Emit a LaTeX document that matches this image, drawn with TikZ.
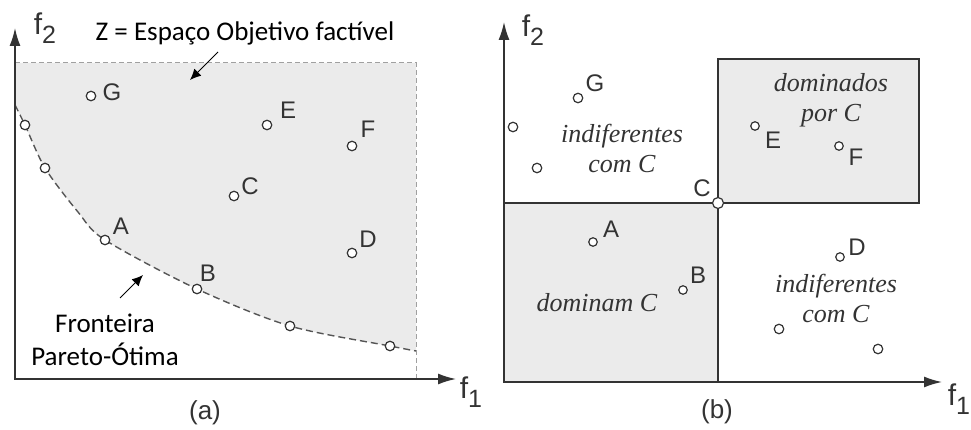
\documentclass[tikz,border=0pt]{standalone}
\usepackage{fontspec}
\setmainfont{Liberation Sans}
\newfontfamily\notefont{Carlito}
\newfontfamily\regionfont{Liberation Serif}
\usetikzlibrary{arrows.meta,positioning,backgrounds}
\definecolor{regiongray}{HTML}{EBEBEB}
\definecolor{axisgray}{HTML}{333333}
\definecolor{dashgray}{HTML}{A0A0A0}
\definecolor{curvegray}{HTML}{555555}
\newcommand{\fsub}[1]{{\fontsize{30}{30}\selectfont f}\lower9pt\hbox{\fontsize{25}{25}\selectfont #1}}

\begin{document}
\begin{tikzpicture}[x=1pt, y=-1pt, font=\fontsize{24}{28}\selectfont,
  axis/.style={draw=axisgray, line width=1.6pt, {Latex[length=18pt,width=11pt]}-{Latex[length=18pt,width=11pt]}},
  pt/.style={circle, draw=axisgray, fill=white, line width=1.2pt, inner sep=0pt, minimum size=9.5pt},
  lbl/.style={text=axisgray, inner sep=0pt},
  note/.style={font=\notefont\fontsize{27}{33}\selectfont, align=center, inner sep=0pt},
  region/.style={font=\regionfont\itshape\fontsize{26}{30}\selectfont, text=axisgray, align=center, inner sep=0pt},
  pointer/.style={draw=black, line width=1pt, -{Latex[length=11pt,width=10pt]}},
  border/.style={draw=axisgray, line width=1.5pt}]
  \useasboundingbox (0,0) rectangle (971,430);

  % (a) objective space
  \coordinate (aO) at (15,379);
  \coordinate (aYtip) at (15,28);
  \coordinate (aXtip) at (456,379);
  \coordinate (aTop) at (15,63);
  \coordinate (aCorner) at (416,63);
  \coordinate (aFoot) at (416,379);
  \coordinate (pStart) at (15,105);
  \coordinate (pBend) at (78,212);
  \coordinate (pEnd) at (416,351);
  \node[pt] (ap1) at (25,125) {};
  \node[pt] (ap2) at (45,168) {};
  \node[pt] (aA) at (105,240) {};
  \node[pt] (aB) at (197,289) {};
  \node[pt] (ap3) at (290,326) {};
  \node[pt] (ap4) at (390,346) {};
  \node[pt] (aC) at (234,196) {};
  \node[pt] (aD) at (352,253) {};
  \node[pt] (aE) at (267,125) {};
  \node[pt] (aF) at (352,146) {};
  \node[pt] (aG) at (91,96) {};
  \node[lbl] (laA) at (121,226) {A};
  \node[lbl] (laB) at (208,273) {B};
  \node[lbl] (laC) at (250,186) {C};
  \node[lbl] (laD) at (368,239) {D};
  \node[lbl] (laE) at (288,110) {E};
  \node[lbl] (laF) at (368,129) {F};
  \node[lbl] (laG) at (112,92) {G};
  \begin{scope}[on background layer]
    \fill[regiongray] (aTop) -- (aCorner) -- plot[smooth, tension=0.5] coordinates {(pEnd) (ap4) (ap3) (aB) (aA) (pBend) (ap2) (ap1) (pStart)} -- cycle;
    \draw[dashgray, line width=1pt, dash pattern=on 5pt off 3pt] (aTop) -- (aCorner) -- (aFoot);
    \draw[curvegray, line width=1.4pt, dash pattern=on 7pt off 4pt] plot[smooth, tension=0.5] coordinates {(pStart) (ap1) (ap2) (pBend) (aA) (aB) (ap3) (ap4) (pEnd)};
  \end{scope}
  \draw[axis] (aYtip) -- (aO) -- (aXtip);
  \node[lbl] (af2) at (45,28) {\fsub{2}};
  \node[lbl] (af1) at (471,392) {\fsub{1}};
  \node[note] (zText) at (245,33) {Z = Espaço Objetivo factível};
  \coordinate (zFrom) at (218,52);
  \coordinate (zTo) at (190,80);
  \draw[pointer] (zFrom) -- (zTo);
  \node[note] (paretoText) at (105,340) {Fronteira\\Pareto-Ótima};
  \coordinate (pFrom) at (120,298);
  \coordinate (pTo) at (143,275);
  \draw[pointer] (pFrom) -- (pTo);
  \node[lbl, font=\fontsize{26}{28}\selectfont] (capA) at (205,413) {(a)};

  % (b) dominance with respect to C
  \coordinate (bO) at (504,382);
  \coordinate (bYtip) at (504,22);
  \coordinate (bXtip) at (942,382);
  \coordinate (bLeft) at (504,203);
  \coordinate (bDown) at (718,382);
  \fill[regiongray] (bLeft) rectangle (bDown);
  \draw[border, fill=regiongray] (718,59) rectangle (919,203);
  \draw[border] (bLeft) -- (bDown |- bLeft) -- (bDown);
  \draw[axis] (bYtip) -- (bO) -- (bXtip);
  \node[pt, minimum size=11pt] (bC) at (718,203) {};
  \node[pt] (bG) at (578,98) {};
  \node[pt] (b1) at (513,127) {};
  \node[pt] (b2) at (537,168) {};
  \node[pt, minimum size=8.5pt] (bE) at (755,126) {};
  \node[pt, minimum size=8.5pt] (bF) at (839,146) {};
  \node[pt, minimum size=8.5pt] (bA) at (593,242) {};
  \node[pt, minimum size=8.5pt] (bB) at (683,290) {};
  \node[pt, minimum size=8.5pt] (bD) at (840,257) {};
  \node[pt] (b3) at (779,329) {};
  \node[pt] (b4) at (878,349) {};
  \node[lbl] (lbC) at (702,188) {C};
  \node[lbl] (lbG) at (595,83) {G};
  \node[lbl] (lbE) at (773,140) {E};
  \node[lbl] (lbF) at (856,157) {F};
  \node[lbl] (lbA) at (611,229) {A};
  \node[lbl] (lbB) at (698,275) {B};
  \node[lbl] (lbD) at (857,247) {D};
  \node[region] (upInd) at (622,148) {indiferentes\\com C};
  \node[region] (domBy) at (831,100) {dominados\\por C};
  \node[region] (domC) at (597,303) {dominam C};
  \node[region] (lowInd) at (836,298) {indiferentes\\com C};
  \node[lbl] (bf2) at (533,30) {\fsub{2}};
  \node[lbl] (bf1) at (959,399) {\fsub{1}};
  \node[lbl, font=\fontsize{26}{28}\selectfont] (capB) at (717,412) {(b)};
\end{tikzpicture}
\end{document}
